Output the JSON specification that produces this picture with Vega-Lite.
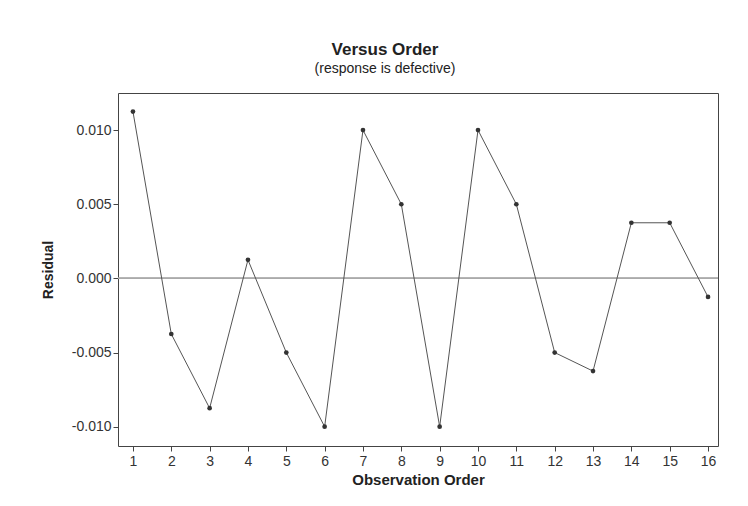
{
  "$schema": "https://vega.github.io/schema/vega-lite/v6.json",
  "autosize": {"type": "none"},
  "width": 600,
  "height": 353,
  "padding": {"left": 118, "top": 93, "right": 30, "bottom": 60},
  "background": "white",
  "config": {
    "view": {"stroke": "#444444", "strokeWidth": 1},
    "font": "Liberation Sans",
    "axisX": {
      "values": [1,2,3,4,5,6,7,8,9,10,11,12,13,14,15,16],
      "labelOverlap": false,
      "grid": false, "domain": false,
      "tickColor": "#444444", "tickSize": 5,
      "labelFontSize": 14, "labelColor": "#333333", "labelPadding": 3,
      "titleFontSize": 15, "titleFontWeight": "bold", "titleColor": "#222222", "titlePadding": 4
    },
    "axisY": {
      "grid": false, "domain": false,
      "labelOverlap": false,
      "tickColor": "#444444", "tickSize": 5,
      "labelFontSize": 14, "labelColor": "#333333", "labelPadding": 2,
      "titleFontSize": 14, "titleFontWeight": "bold", "titleColor": "#222222", "titlePadding": 16
    }
  },
  "title": {
    "text": "Versus Order",
    "subtitle": "(response is defective)",
    "anchor": "middle",
    "dx": -33,
    "offset": 16,
    "fontSize": 17,
    "fontWeight": "bold",
    "color": "#222222",
    "subtitleFontSize": 14,
    "subtitleColor": "#222222",
    "subtitlePadding": 3
  },
  "data": {
    "values": [
      {"order": 1, "residual": 0.01125},
      {"order": 2, "residual": -0.00375},
      {"order": 3, "residual": -0.00875},
      {"order": 4, "residual": 0.00125},
      {"order": 5, "residual": -0.005},
      {"order": 6, "residual": -0.01},
      {"order": 7, "residual": 0.01},
      {"order": 8, "residual": 0.005},
      {"order": 9, "residual": -0.01},
      {"order": 10, "residual": 0.01},
      {"order": 11, "residual": 0.005},
      {"order": 12, "residual": -0.005},
      {"order": 13, "residual": -0.00625},
      {"order": 14, "residual": 0.00375},
      {"order": 15, "residual": 0.00375},
      {"order": 16, "residual": -0.00125}
    ]
  },
  "layer": [
    {
      "mark": {"type": "rule", "color": "#aaaaaa", "strokeWidth": 1},
      "encoding": {"y": {"datum": 0, "type": "quantitative"}}
    },
    {
      "mark": {"type": "line", "color": "#555555", "strokeWidth": 1},
      "encoding": {
        "x": {
          "field": "order", "type": "quantitative",
          "scale": {"domain": [0.61, 16.26], "nice": false, "zero": false},
          "axis": {"title": "Observation Order"}
        },
        "y": {
          "field": "residual", "type": "quantitative",
          "scale": {"domain": [-0.0113, 0.0125], "nice": false, "zero": false},
          "axis": {
            "title": "Residual",
            "values": [-0.01, -0.005, 0, 0.005, 0.01],
            "format": ".3f",
            "labelExpr": "replace(datum.label, '\u2212', '-')"
          }
        }
      }
    },
    {
      "mark": {"type": "point", "filled": true, "color": "#333333", "size": 22, "opacity": 1},
      "encoding": {
        "x": {"field": "order", "type": "quantitative"},
        "y": {"field": "residual", "type": "quantitative"}
      }
    }
  ]
}
